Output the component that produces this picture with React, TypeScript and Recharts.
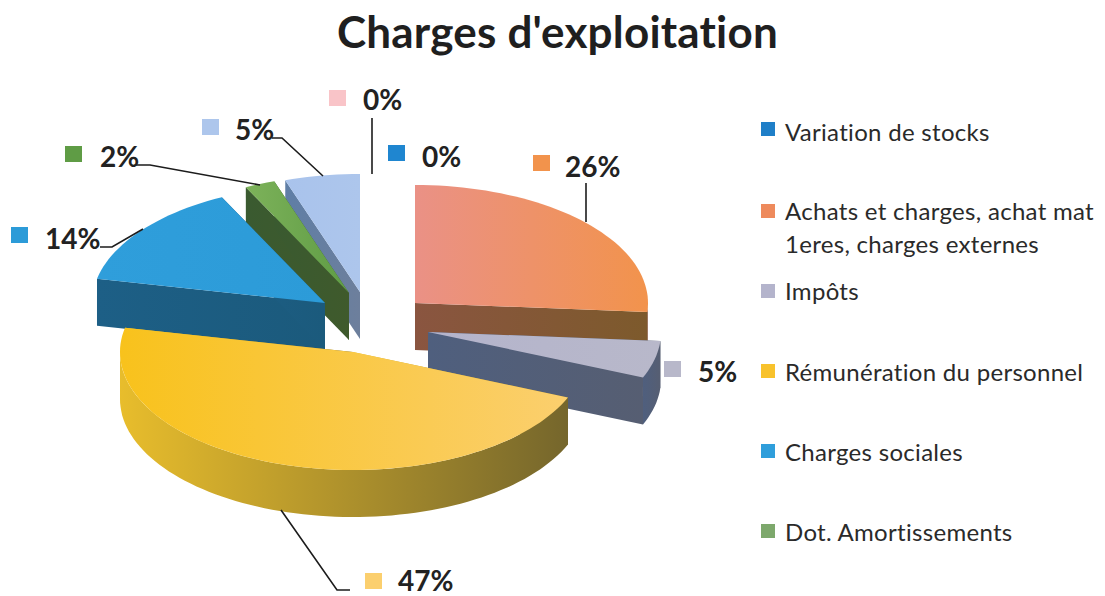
import { PieChart, Pie } from 'recharts';

const FONT = 'Lato, sans-serif';

const categories = [
  'Variation de stocks',
  'Achats et charges, achat mat 1eres, charges externes',
  'Impôts',
  'Rémunération du personnel',
  'Charges sociales',
  'Dot. Amortissements',
  'Autres',
  'Divers',
];
const values = [0, 26.2, 5.1, 47, 14.4, 2.1, 5.2, 0];
const data = categories.map((name, i) => ({ name, value: values[i] }));

// back to front, slices overlap each other
const drawOrder = [6, 5, 4, 1, 2, 3];

const topColors = [
  ['#1f86d0', '#1f86d0'],
  ['#ea9186', '#f2934c'],
  ['#b4b4cc', '#b8b8ca'],
  ['#f8c21c', '#fbcf6e'],
  ['#2f9edb', '#2c9bd8'],
  ['#7db25a', '#5f9c45'],
  ['#a9c3ec', '#adc6ec'],
  ['#f9c4c8', '#f9c4c8'],
];
const sideColors = [
  ['#175f95', '#175f95'],
  ['#8a5540', '#7d5a2c'],
  ['#4f5f7e', '#565e72'],
  ['#e8bd2c', '#75662c'],
  ['#1d5f86', '#1b5a7c'],
  ['#3a5a30', '#3f5a2c'],
  ['#5f7ea6', '#6d7f9c'],
  ['#c08b90', '#c08b90'],
];
const explode = [
  [0, 0],
  [55, 3],
  [68, 32],
  [-7, 52],
  [-35, 3],
  [-11, -7],
  [0, -8],
  [0, 0],
];

const RATIO = 118 / 233;
const DEPTH = 47;

function pt(cx: number, cy: number, r: number, deg: number) {
  const a = (deg * Math.PI) / 180;
  return [cx + r * Math.cos(a), cy - r * RATIO * Math.sin(a)];
}

function arc(cx: number, cy: number, r: number, from: number, to: number, dy = 0) {
  // recharts angles go down when running clockwise
  let d = '';
  const steps = Math.max(2, Math.ceil(Math.abs(to - from) / 2));
  for (let i = 0; i <= steps; i++) {
    const p = pt(cx, cy + dy, r, from + ((to - from) * i) / steps);
    d += `L${p[0].toFixed(1)} ${p[1].toFixed(1)} `;
  }
  return d;
}

function sliceShape(idx: number) {
  return function Slice(props: any) {
    if (props.name !== categories[idx] || !props.value) return <g />;
    const cx = props.cx + explode[idx][0];
    const cy = props.cy + explode[idx][1];
    const r = props.outerRadius;
    const start = props.startAngle;
    const end = props.endAngle;
    const s = pt(cx, cy, r, start);
    const e = pt(cx, cy, r, end);

    // only the lower half of the rim faces the viewer (0..-180 here)
    const hi = Math.min(start, 0);
    const lo = Math.max(end, -180);
    const hasWall = hi > lo;
    const topId = `top-${idx}`;
    const sideId = `side-${idx}`;

    return (
      <g>
        <defs>
          <linearGradient id={topId} x1="0" y1="0" x2="1" y2="0">
            <stop offset="0%" stopColor={topColors[idx][0]} />
            <stop offset="100%" stopColor={topColors[idx][1]} />
          </linearGradient>
          <linearGradient id={sideId} x1="0" y1="0" x2="1" y2="0">
            <stop offset="0%" stopColor={sideColors[idx][0]} />
            <stop offset="100%" stopColor={sideColors[idx][1]} />
          </linearGradient>
        </defs>
        <path
          d={`M${s[0]} ${s[1]} L${cx} ${cy} L${cx} ${cy + DEPTH} L${s[0]} ${s[1] + DEPTH}Z`}
          fill={`url(#${sideId})`}
        />
        <path
          d={`M${e[0]} ${e[1]} L${cx} ${cy} L${cx} ${cy + DEPTH} L${e[0]} ${e[1] + DEPTH}Z`}
          fill={`url(#${sideId})`}
        />
        {hasWall && (
          <path
            d={`M${arc(cx, cy, r, hi, lo).slice(1)} ${arc(cx, cy, r, lo, hi, DEPTH)}Z`}
            fill={`url(#${sideId})`}
          />
        )}
        <path d={`M${cx} ${cy} ${arc(cx, cy, r, start, end)}Z`} fill={`url(#${topId})`} />
      </g>
    );
  };
}

const labelSpots: any[] = [
  { box: [388, 145], x: 422, y: 167, line: '' },
  { box: [533, 155], x: 565, y: 177, line: '586,183 586,222' },
  { box: [664, 361], x: 698, y: 382, line: '' },
  { box: [365, 573], x: 398, y: 591, line: '281,510 337,590 350,590' },
  { box: [11, 227], x: 45, y: 249, line: '100,247 112,247 143,229' },
  { box: [65, 146], x: 100, y: 167, line: '135,165 150,165 260,185' },
  { box: [202, 119], x: 235, y: 140, line: '272,138 282,138 323,176' },
  { box: [329, 90], x: 363, y: 110, line: '372,118 372,174' },
];

function renderLabel(props: any) {
  const i = categories.indexOf(props.name);
  const spot = labelSpots[i];
  return (
    <g key={props.name}>
      {spot.line && <polyline points={spot.line} fill="none" stroke="#1c1c1c" strokeWidth={1.6} />}
      <rect x={spot.box[0]} y={spot.box[1]} width={17} height={16} fill={topColors[i][1]} />
      <text x={spot.x} y={spot.y} fill="#222" fontFamily={FONT} fontWeight={700} fontSize={28}>
        {`${Math.round(props.percent * 100)}%`}
      </text>
    </g>
  );
}

const legendRows = [
  { label: ['Variation de stocks'], swatch: 122, base: 141, color: '#1f7fc8' },
  { label: ['Achats et charges, achat mat', '1eres, charges externes'], swatch: 204, base: 220, color: '#ee8a5c' },
  { label: ['Impôts'], swatch: 284, base: 300, color: '#b4b4cc' },
  { label: ['Rémunération du personnel'], swatch: 364, base: 381, color: '#f8c22c' },
  { label: ['Charges sociales'], swatch: 444, base: 461, color: '#2f9edb' },
  { label: ['Dot. Amortissements'], swatch: 524, base: 541, color: '#7da86c' },
];

export default function App() {
  return (
    <div style={{ position: 'absolute', left: 0, top: 0, width: 1105, height: 596, background: '#fff', overflow: 'hidden' }}>
      <PieChart width={1105} height={596} margin={{ top: 0, right: 0, bottom: 0, left: 0 }}>
        {drawOrder.map((idx, n) => (
          <Pie
            key={idx}
            data={data}
            dataKey="value"
            nameKey="name"
            cx={360}
            cy={300}
            outerRadius={233}
            startAngle={90}
            endAngle={-270}
            paddingAngle={0}
            stroke="none"
            isAnimationActive={false}
            shape={sliceShape(idx)}
            label={n === drawOrder.length - 1 ? renderLabel : false}
            labelLine={false}
          />
        ))}
      </PieChart>
      <svg width={1105} height={596} style={{ position: 'absolute', left: 0, top: 0 }}>
        <text
          x={337}
          y={48}
          fontFamily={FONT}
          fontWeight={700}
          fontSize={44}
          letterSpacing={0.2}
          fill="#1f1f1f"
          style={{ fontVariantLigatures: 'none' }}
        >
          Charges d'exploitation
        </text>
        {legendRows.map((row) => (
          <g key={row.label[0]}>
            <rect x={761} y={row.swatch} width={14} height={14} fill={row.color} />
            {row.label.map((line, i) => (
              <text key={line} x={785} y={row.base + i * 33} fontFamily={FONT} fontSize={24} letterSpacing={0.3} fill="#2a2a2a">
                {line}
              </text>
            ))}
          </g>
        ))}
      </svg>
    </div>
  );
}
